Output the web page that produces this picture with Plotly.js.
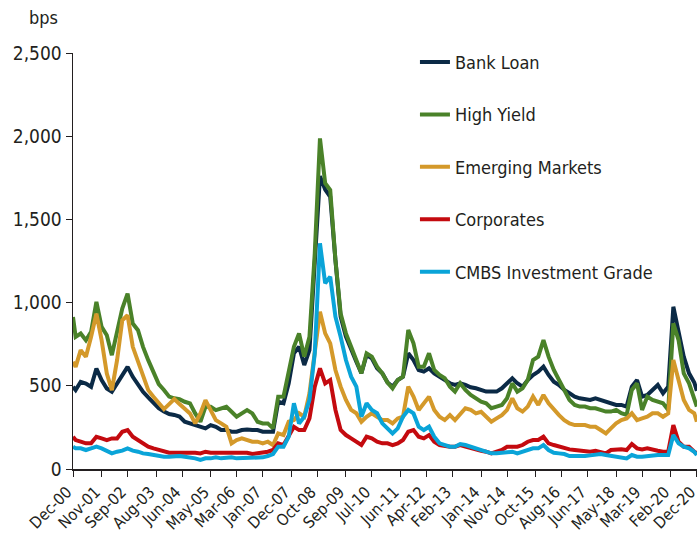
<!DOCTYPE html>
<html>
<head>
<meta charset="utf-8">
<script src="https://cdn.plot.ly/plotly-3.0.1.min.js"></script>
<style>
html,body{margin:0;padding:0;background:#fff;}
#chart{width:699px;height:535px;}
</style>
</head>
<body>
<div id="chart"></div>
<script>
// Dates (Dec-00, then every other month, then Dec-20)
const dates = [
 '2000-12',
 '2001-01','2001-03','2001-05','2001-07','2001-09','2001-11',
 '2002-01','2002-03','2002-05','2002-07','2002-09','2002-11',
 '2003-01','2003-03','2003-05','2003-07','2003-09','2003-11',
 '2004-01','2004-03','2004-05','2004-07','2004-09','2004-11',
 '2005-01','2005-03','2005-05','2005-07','2005-09','2005-11',
 '2006-01','2006-03','2006-05','2006-07','2006-09','2006-11',
 '2007-01','2007-03','2007-05','2007-07','2007-09','2007-11',
 '2008-01','2008-03','2008-05','2008-07','2008-09','2008-11',
 '2009-01','2009-03','2009-05','2009-07','2009-09','2009-11',
 '2010-01','2010-03','2010-05','2010-07','2010-09','2010-11',
 '2011-01','2011-03','2011-05','2011-07','2011-09','2011-11',
 '2012-01','2012-03','2012-05','2012-07','2012-09','2012-11',
 '2013-01','2013-03','2013-05','2013-07','2013-09','2013-11',
 '2014-01','2014-03','2014-05','2014-07','2014-09','2014-11',
 '2015-01','2015-03','2015-05','2015-07','2015-09','2015-11',
 '2016-01','2016-03','2016-05','2016-07','2016-09','2016-11',
 '2017-01','2017-03','2017-05','2017-07','2017-09','2017-11',
 '2018-01','2018-03','2018-05','2018-07','2018-09','2018-11',
 '2019-01','2019-03','2019-05','2019-07','2019-09','2019-11',
 '2020-01','2020-03','2020-05','2020-07','2020-09','2020-11',
 '2020-12'
];

const bankLoan = [
 494,474,524,514,494,604,534,484,464,514,554,614,554,504,464,430,400,365,345,330,325,315,
 284,274,264,254,244,264,254,234,234,224,224,234,238,234,234,224,224,224,404,
 395,515,695,735,625,715,1256,1760,1680,1636,1256,915,795,715,645,575,685,665,605,575,
 520,495,535,555,695,655,595,585,605,575,555,535,515,505,515,505,491,485,475,465,
 465,465,485,515,545,515,495,535,565,585,615,565,525,505,475,455,435,425,419,415,
 425,415,405,395,385,385,375,495,535,435,445,475,505,455,495,975,815,675,575,520,470
];
const highYield = [
 914,794,814,774,824,1004,854,804,684,834,964,1054,874,834,734,654,580,510,475,435,425,420,
 404,394,334,284,374,374,354,364,374,344,314,334,354,334,284,274,274,244,434,
 435,575,735,815,675,795,1296,1987,1717,1677,1256,935,815,735,655,575,695,675,615,575,
 520,485,535,555,835,755,615,615,695,595,565,545,495,465,515,475,445,425,405,395,
 365,375,385,425,515,465,485,535,655,675,775,675,595,535,475,415,385,375,375,365,
 365,355,345,345,355,335,325,475,515,355,435,415,405,395,355,875,775,575,515,415,375
];
const emergingMarkets = [
 644,614,714,674,794,934,774,574,474,654,894,924,734,644,554,474,434,395,360,390,420,390,
 364,334,274,334,414,354,294,274,254,154,174,184,174,164,164,154,164,144,214,
 204,284,294,335,314,455,695,945,815,755,595,495,415,355,335,284,314,335,314,294,
 294,274,304,314,495,435,355,395,435,355,314,294,324,294,334,365,355,334,344,314,
 284,304,324,355,425,365,345,375,435,385,445,395,355,324,294,274,264,264,264,254,
 254,234,214,244,274,294,304,335,294,304,314,335,335,314,335,655,535,415,355,335,284
];
const corporates = [
 194,174,164,154,154,194,184,174,184,184,224,234,194,174,154,134,124,114,104,98,98,98,
 104,100,98,94,104,98,98,98,98,94,94,98,98,90,94,98,104,114,154,
 144,194,254,234,234,304,495,605,515,535,355,234,204,184,164,144,194,184,164,154,
 154,144,154,174,224,234,194,184,204,164,144,138,134,134,144,134,124,118,110,104,
 94,104,114,134,134,134,144,164,174,174,194,154,144,134,124,118,114,110,104,104,
 110,104,94,114,118,118,114,150,124,118,124,114,110,104,104,264,164,134,134,104,94
];
const cmbs = [
 134,124,124,114,124,134,124,110,94,104,110,124,110,104,94,90,84,78,74,74,78,78,
 74,70,64,54,64,64,70,64,70,70,64,64,70,70,64,70,78,90,134,
 134,194,395,274,314,415,695,1356,1116,1156,915,795,655,555,495,314,395,355,335,274,
 244,214,244,314,355,334,254,234,254,194,154,144,134,134,150,144,134,124,110,104,
 94,94,98,104,104,94,104,114,124,124,144,114,98,94,90,78,76,76,78,82,
 86,90,84,78,74,70,64,84,74,74,78,78,84,84,84,204,154,134,124,104,84
];

const seriesNames = ['Bank Loan','High Yield','Emerging Markets','Corporates','CMBS Investment Grade'];
const seriesColors = ['#0b2a46','#4a8229','#d4992a','#c40a0f','#0aa4d8'];
const seriesValues = [bankLoan, highYield, emergingMarkets, corporates, cmbs];

const tickDates = ['2000-12-01','2001-11-01','2002-09-01','2003-08-01','2004-06-01','2005-05-01','2006-03-01','2007-01-01',
 '2007-12-01','2008-10-01','2009-09-01','2010-07-01','2011-06-01','2012-04-01','2013-02-01','2014-01-01',
 '2014-11-01','2015-10-01','2016-08-01','2017-06-01','2018-05-01','2019-03-01','2020-02-01','2020-12-01'];
const tickLabels = ['Dec-00','Nov-01','Sep-02','Aug-03','Jun-04','May-05','Mar-06','Jan-07','Dec-07','Oct-08','Sep-09',
 'Jul-10','Jun-11','Apr-12','Feb-13','Jan-14','Nov-14','Oct-15','Aug-16','Jun-17','May-18','Mar-19','Feb-20','Dec-20'];

const FONT = '"DejaVu Sans Condensed", "Liberation Sans Narrow", sans-serif';

const traces = seriesNames.map((n, i) => ({
  x: dates, y: seriesValues[i], name: n, type: 'scatter', mode: 'lines',
  legendgroup: 'g' + i,
  line: {color: seriesColors[i], width: 4}
}));

const layout = {
  width: 699, height: 535,
  margin: {l: 73, r: 2, t: 53, b: 66},
  paper_bgcolor: '#fff', plot_bgcolor: '#fff',
  font: {family: FONT, size: 17, color: '#231f20'},
  showlegend: true,
  legend: {x: 0.548, y: 1.022, xanchor: 'left', yanchor: 'top', traceorder: 'grouped',
    tracegroupgap: 26, font: {family: FONT, size: 18, color: '#231f20'}, bgcolor: 'rgba(0,0,0,0)'},
  xaxis: {type: 'date', range: ['2000-12-01', '2020-12-03'], tickmode: 'array', tickvals: tickDates,
    ticktext: tickLabels, tickangle: -45, ticks: 'outside', ticklen: 6, tickcolor: '#231f20',
    ticklabeloverflow: 'allow', ticklabelshift: -6,
    showline: true, linecolor: '#231f20', linewidth: 1.5, showgrid: false, zeroline: false,
    tickfont: {family: FONT, size: 16, color: '#231f20'}},
  yaxis: {range: [0, 2500], tickvals: [0, 500, 1000, 1500, 2000, 2500], tickformat: ',d',
    ticks: 'outside', ticklen: 6, tickcolor: '#231f20', showline: true, linecolor: '#231f20',
    linewidth: 1.5, showgrid: false, zeroline: false,
    tickfont: {family: FONT, size: 19, color: '#231f20'}},
  annotations: [{text: 'bps', xref: 'paper', yref: 'paper', x: -0.048, y: 1.086, xanchor: 'center',
    yanchor: 'middle', showarrow: false, font: {family: FONT, size: 18, color: '#231f20'}}]
};

Plotly.newPlot('chart', traces, layout, {displayModeBar: false, staticPlot: true});
</script>
</body>
</html>
